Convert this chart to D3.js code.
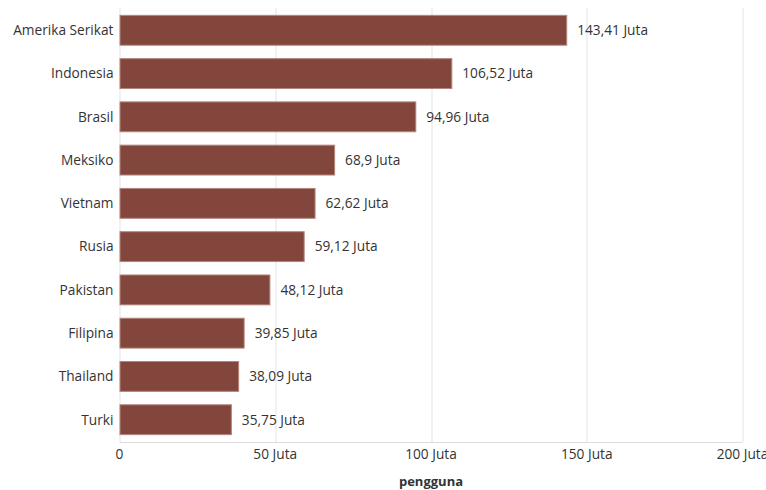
<!DOCTYPE html>
<html>
<head>
<meta charset="utf-8">
<script src="https://cdn.jsdelivr.net/npm/d3@7"></script>
<style>
  body { margin: 0; background: #fff; overflow: hidden; }
  text { font-family: "Open Sans", "Noto Sans", sans-serif; }
</style>
</head>
<body>
<svg id="chart" width="766" height="490"></svg>
<script>
var negara = ["Amerika Serikat", "Indonesia", "Brasil", "Meksiko", "Vietnam",
              "Rusia", "Pakistan", "Filipina", "Thailand", "Turki"];
var pengguna = [143.41, 106.52, 94.96, 68.9, 62.62, 59.12, 48.12, 39.85, 38.09, 35.75];
var ticks = [0, 50, 100, 150, 200];

var margin = { top: 8, left: 119.5, right: 23.5, bottom: 48 };
var width = 766 - margin.left - margin.right;
var height = 490 - margin.top - margin.bottom;

var svg = d3.select("#chart");
var g = svg.append("g").attr("transform", "translate(" + margin.left + "," + margin.top + ")");

var x = d3.scaleLinear().domain([0, 200]).range([0, width]);
var y = d3.scaleBand().domain(negara).range([0, height]).paddingInner(0.31).paddingOuter(0.17);

var fs = 13.7;

function fmt(v) {
  return String(v).replace(".", ",") + " Juta";
}

// garis grid
g.selectAll(".grid").data(ticks).enter().append("line")
  .attr("x1", function(d) { return Math.round(x(d)) + 0.5; })
  .attr("x2", function(d) { return Math.round(x(d)) + 0.5; })
  .attr("y1", 0).attr("y2", height)
  .attr("stroke", "#e3e3e3").attr("stroke-width", 1);

g.append("line")
  .attr("x1", 0).attr("x2", width)
  .attr("y1", height + 0.5).attr("y2", height + 0.5)
  .attr("stroke", "#dcdcdc");

// batang
g.selectAll(".bar").data(pengguna).enter().append("rect")
  .attr("x", 0.5)
  .attr("y", function(d, i) { return y(negara[i]); })
  .attr("width", function(d) { return x(d); })
  .attr("height", y.bandwidth())
  .attr("fill", "#83463c")
  .attr("stroke", "#b3857d")
  .attr("stroke-width", 1);

// label nilai
g.selectAll(".val").data(pengguna).enter().append("text")
  .attr("x", function(d) { return x(d) + 11; })
  .attr("y", function(d, i) { return y(negara[i]) + y.bandwidth() / 2; })
  .attr("dy", "0.35em")
  .attr("font-size", fs)
  .attr("fill", "#333")
  .text(fmt);

// label kategori
g.selectAll(".cat").data(negara).enter().append("text")
  .attr("x", -6)
  .attr("y", function(d) { return y(d) + y.bandwidth() / 2; })
  .attr("dy", "0.35em")
  .attr("text-anchor", "end")
  .attr("font-size", fs)
  .attr("fill", "#333")
  .text(function(d) { return d; });

// tick sumbu x
g.selectAll(".tick").data(ticks).enter().append("text")
  .attr("x", function(d) { return x(d); })
  .attr("y", height + 12)
  .attr("dy", "0.35em")
  .attr("text-anchor", "middle")
  .attr("font-size", fs)
  .attr("fill", "#333")
  .text(function(d) { return d === 0 ? "0" : d + " Juta"; });

g.append("text")
  .attr("x", width / 2)
  .attr("y", height + 39)
  .attr("dy", "0.35em")
  .attr("text-anchor", "middle")
  .attr("font-size", fs - 0.7)
  .attr("font-weight", "bold")
  .attr("fill", "#333")
  .text("pengguna");
</script>
</body>
</html>
